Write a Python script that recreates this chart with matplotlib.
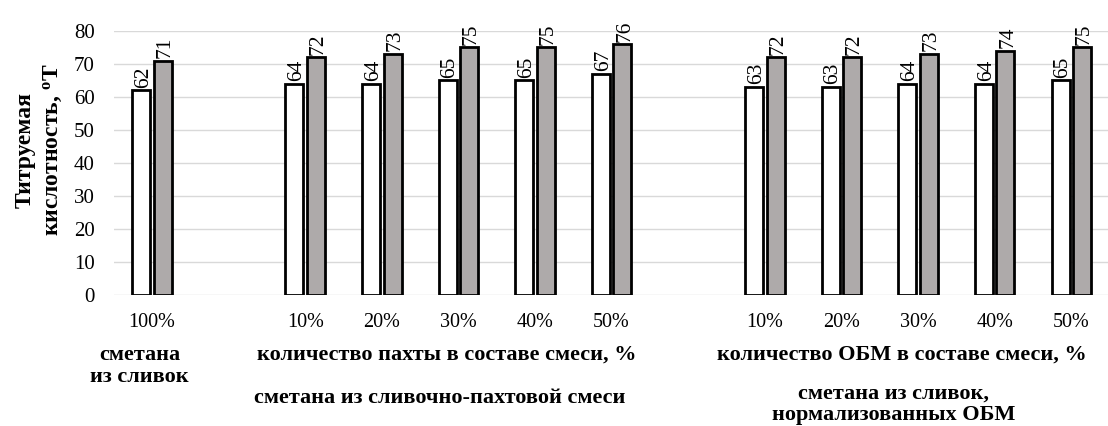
import matplotlib
matplotlib.use("Agg")
import matplotlib.pyplot as plt
import matplotlib.transforms as mtransforms

plt.rcParams['font.family'] = ['Liberation Serif', 'DejaVu Serif']
plt.rcParams['mathtext.default'] = 'regular'

# категории по оси X (пустые места разделяют группы)
categories = ['100%', '', '10%', '20%', '30%', '40%', '50%', '', '10%', '20%', '30%', '40%', '50%']
# первая серия (белые столбцы) и вторая серия (серые столбцы)
white_vals = [62, None, 64, 64, 65, 65, 67, None, 63, 63, 64, 64, 65]
gray_vals = [71, None, 72, 73, 75, 75, 76, None, 72, 72, 73, 74, 75]

yticks = [0, 10, 20, 30, 40, 50, 60, 70, 80]

fig = plt.figure(figsize=(11.08, 4.26), dpi=100)
ax = fig.add_axes([114 / 1108, 131 / 426, 994 / 1108, 264 / 426])

bar_w = 0.235
off = 0.14
for i, (w, g) in enumerate(zip(white_vals, gray_vals)):
    if w is None:
        continue
    ax.bar(i - off, w, width=bar_w, color='white', edgecolor='black', linewidth=2.0, zorder=3)
    ax.bar(i + off, g, width=bar_w, color='#AEAAAA', edgecolor='black', linewidth=2.0, zorder=3)
    ax.text(i - off + 0.03, w + 0.8, str(w), rotation=90, ha='center', va='bottom', fontsize=15.5)
    ax.text(i + off + 0.03, g + 0.8, str(g), rotation=90, ha='center', va='bottom', fontsize=15.5)

ax.set_xlim(-0.496, 12.48)
ax.set_ylim(0, 80)
ax.set_yticks(yticks)
ax.set_xticks(range(len(categories)))
ax.set_xticklabels(categories, fontsize=14.5)
ax.tick_params(axis='both', length=0)
ax.tick_params(axis='y', labelsize=15, pad=14)
ax.tick_params(axis='x', pad=13)
ax.yaxis.grid(True, color='#D9D9D9', linewidth=1.0, zorder=0)
ax.set_axisbelow(True)
for s in ax.spines.values():
    s.set_visible(False)

# подписи групп под осью
trans = mtransforms.blended_transform_factory(ax.transData, fig.transFigure)
bold = dict(fontsize=16, fontweight='bold', ha='center', va='center', transform=trans)
ax.text(-0.16, 1 - 366 / 426, 'сметана\nиз сливок', linespacing=1.1, **bold)
ax.text(3.85, 1 - 355 / 426, 'количество пахты в составе смеси, %', **bold)
ax.text(3.76, 1 - 398 / 426, 'сметана из сливочно-пахтовой смеси', **bold)
ax.text(9.79, 1 - 355 / 426, 'количество ОБМ в составе смеси, %', **bold)
ax.text(9.68, 1 - 404 / 426, 'сметана из сливок,\nнормализованных ОБМ', linespacing=1.1, **bold)

# подпись оси Y
fig.text(40 / 1108, 1 - 150 / 426, 'Титруемая\nкислотность, $^{o}$Т', rotation=90,
         ha='center', va='center', fontsize=17, fontweight='bold', linespacing=1.35)

fig.savefig('out.png', dpi=100)
